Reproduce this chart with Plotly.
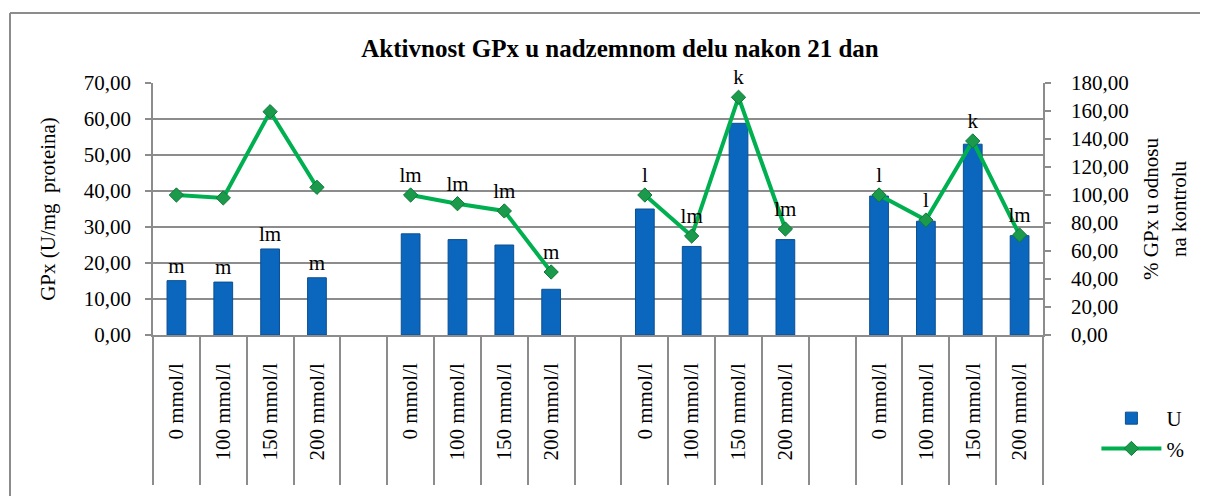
import plotly.graph_objects as go

categories = ["0 mmol/l", "100 mmol/l", "150 mmol/l", "200 mmol/l", "",
              "0 mmol/l", "100 mmol/l", "150 mmol/l", "200 mmol/l", "",
              "0 mmol/l", "100 mmol/l", "150 mmol/l", "200 mmol/l", "",
              "0 mmol/l", "100 mmol/l", "150 mmol/l", "200 mmol/l"]

u_values = [15.1, 14.7, 23.9, 15.9, None,
            28.1, 26.5, 25.0, 12.7, None,
            35.0, 24.6, 58.8, 26.5, None,
            38.6, 31.6, 53.0, 27.6]

pct_values = [100.0, 97.9, 159.5, 105.5, None,
              100.0, 93.8, 88.6, 45.0, None,
              100.0, 70.7, 169.8, 75.7, None,
              100.0, 82.1, 138.6, 71.4]

bar_labels = ["m", "m", "lm", "m", "",
              "", "", "", "", "",
              "", "", "", "", "",
              "", "", "", ""]

line_labels = ["", "", "", "", "",
               "lm", "lm", "lm", "m", "",
               "l", "lm", "k", "lm", "",
               "l", "l", "k", "lm"]

x = list(range(len(categories)))

FONT = "Liberation Serif"
GRID = "#8c8c8c"

# page is offset by 8px body margin; figure coords = page coords - 8
L, R, T, B = 145, 1035, 75, 327
W, H = 1200, 488
PW, PH = R - L, B - T

fig = go.Figure()
fig.add_trace(go.Bar(
    x=x, y=u_values, name="U", width=0.4,
    marker=dict(color="#0b67bd", line=dict(color="#0a4f92", width=1)),
    text=bar_labels, textposition="outside", cliponaxis=False,
    constraintext="none",
    textfont=dict(family=FONT, size=21, color="#000000"),
))
fig.add_trace(go.Scatter(
    x=x, y=pct_values, name="%", yaxis="y2",
    mode="lines+markers+text",
    line=dict(color="#00b050", width=4),
    marker=dict(symbol="diamond", size=11, color="#1a9a4a", line=dict(color="#0e7a3a", width=1)),
    text=line_labels, textposition="top center", cliponaxis=False,
    textfont=dict(family=FONT, size=21, color="#000000"),
    connectgaps=False,
))

fig.update_layout(
    width=W, height=H,
    margin=dict(l=L, r=W - R, t=T, b=H - B),
    paper_bgcolor="white", plot_bgcolor="white",
    separators=",.",
    font=dict(family=FONT, size=21, color="#000000"),
    title=dict(text="<b>Aktivnost GPx u nadzemnom delu nakon 21 dan</b>",
               x=(612 - L) / PW, xref="paper", xanchor="center",
               y=1 - 40 / H, yref="container", yanchor="middle",
               font=dict(family=FONT, size=25, color="#000000")),
    bargap=0.6,
    showlegend=True,
    legend=dict(x=1.06, y=-0.25, xanchor="left", yanchor="top",
                font=dict(family=FONT, size=21), bgcolor="rgba(0,0,0,0)",
                tracegroupgap=9, itemwidth=60),
    xaxis=dict(
        range=[-0.5, len(categories) - 0.5],
        tickmode="array", tickvals=x, ticktext=categories,
        tickangle=-90, ticks="", ticklabelstandoff=18,
        showgrid=False, zeroline=False,
        showline=True, linecolor=GRID, linewidth=1.5,
        minor=dict(ticks="outside", tick0=-0.5, dtick=1, ticklen=148,
                   tickcolor=GRID, tickwidth=1.5, showgrid=False),
        tickfont=dict(family=FONT, size=21),
    ),
    yaxis=dict(
        range=[0, 70], dtick=10, tickformat=".2f",
        showgrid=True, gridcolor=GRID, gridwidth=1.5,
        zeroline=False, showline=True, linecolor=GRID, linewidth=1.5,
        ticks="outside", ticklen=6, tickcolor=GRID, tickwidth=1.5,
        ticklabelstandoff=10,
        title=dict(text="GPx (U/mg  proteina)", standoff=22,
                   font=dict(family=FONT, size=21)),
        tickfont=dict(family=FONT, size=21),
    ),
    yaxis2=dict(
        range=[0, 180], dtick=20, tickformat=".2f",
        overlaying="y", side="right",
        showgrid=False, zeroline=False,
        showline=True, linecolor=GRID, linewidth=1.5,
        ticks="outside", ticklen=6, tickcolor=GRID, tickwidth=1.5,
        ticklabelstandoff=16,
        title=dict(text="% GPx u odnosu<br>na kontrolu", standoff=16,
                   font=dict(family=FONT, size=21)),
        tickfont=dict(family=FONT, size=21),
    ),
    shapes=[
        dict(type="line", xref="paper", yref="paper",
             x0=(2 - L) / PW, x1=(2 - L) / PW,
             y0=(B - H) / PH, y1=(B - 5) / PH,
             line=dict(color="#8c8c8c", width=2), layer="below"),
        dict(type="line", xref="paper", yref="paper",
             x0=(2 - L) / PW, x1=(W - L) / PW,
             y0=(B - 5) / PH, y1=(B - 5) / PH,
             line=dict(color="#8c8c8c", width=2), layer="below"),
    ],
)

fig.write_html("out.html")
